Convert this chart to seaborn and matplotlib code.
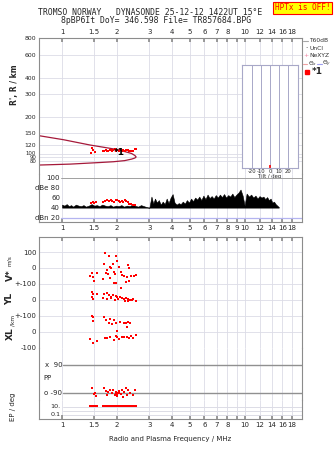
import numpy as np
import pandas as pd
import matplotlib
matplotlib.use("Agg")
import matplotlib.pyplot as plt
from matplotlib.ticker import NullLocator, NullFormatter
from matplotlib.lines import Line2D
from matplotlib.transforms import blended_transform_factory, ScaledTranslation
import seaborn as sns

# ---------------- data ----------------
freq_ticks = [1, 1.5, 2, 3, 4, 5, 6, 7, 8, 9, 10, 12, 14, 16, 18]
labels_top = ['1', '1.5', '2', '3', '4', '5', '6', '7', '8', '', '10', '12', '14', '16', '18']
labels_mid = ['1', '1.5', '2', '3', '4', '5', '6', '7', '8', '9', '10', '12', '14', '16', '18']
labels_bot = ['1', '1.5', '2', '3', '4', '5', '6', '7', '8', '', '10', '12', '14', '16', '18']

height_ticks = [80, 90, 100, 120, 150, 200, 300, 400, 600, 800]

echo_f = [1.44, 1.45, 1.48, 1.51, 1.67, 1.70, 1.73, 1.76, 1.79, 1.82, 1.85, 1.88, 1.91, 1.94,
          1.97, 2.00, 2.04, 2.08, 2.12, 2.16, 2.20, 2.24, 2.28, 2.33, 2.38, 2.45, 2.50, 2.55]
echo_h = [103, 114, 108, 105, 107, 106, 108, 107, 106, 108, 109, 107, 108, 110,
          106, 108, 107, 109, 107, 108, 106, 109, 108, 107, 106, 107, 110, 110]

prof_f = [0.75, 1.02, 1.42, 1.99, 2.30, 2.40, 2.50, 2.54, 2.50, 2.40, 2.20, 1.91, 1.61, 1.11, 0.75]
prof_h = [142, 132, 120, 110, 103.5, 101.5, 96, 91, 88, 85, 81, 78.3, 76.5, 73, 71]

mark_f, mark_h = [2.05], [103]

tilt_vals = [0]

amp_f = [1.00, 1.03, 1.06, 1.09, 1.12, 1.15, 1.19, 1.23, 1.27, 1.31, 1.35, 1.40,
         1.45, 1.50, 1.55, 1.60, 1.66, 1.72,
         1.78, 1.84, 1.90, 1.97, 2.04, 2.11, 2.18, 2.26, 2.34, 2.42,
         2.50, 2.60, 2.70, 2.80, 2.90, 3.00,
         3.08, 3.15, 3.22, 3.30, 3.38, 3.46,
         3.55, 3.64, 3.73, 3.82, 3.92,
         4.02, 4.12, 4.23, 4.34, 4.45,
         4.57, 4.69, 4.81, 4.94, 5.07,
         5.20, 5.34, 5.48, 5.62, 5.77,
         5.92, 6.08, 6.24, 6.40, 6.57,
         6.74, 6.92, 7.10, 7.29, 7.48,
         7.68, 7.88, 8.09, 8.30, 8.52,
         8.74, 8.97, 9.21, 9.45, 9.70,
         9.95, 10.2, 10.5, 10.8, 11.1,
         11.4, 11.7, 12.0, 12.3, 12.6,
         12.9, 13.2, 13.5, 13.8, 14.1,
         14.4, 14.7, 15.0, 15.3]
amp_db = [46, 44, 47, 43, 45, 42, 46, 44, 43, 45, 42, 44,
          47, 44, 45, 43, 46, 44,
          43, 45, 42, 44, 43, 45, 42, 44, 43, 46,
          44, 42, 45, 43, 41, 40,
          62, 48, 58, 50, 55, 46,
          52, 47, 58, 49, 60,
          67, 50, 46, 49, 47,
          52, 48, 55, 50, 58,
          53, 60, 56, 62, 55,
          64, 57, 66, 59, 63,
          58, 65, 60, 66, 61,
          67, 60, 65, 62, 68,
          61, 66, 70, 76, 64,
          44, 68, 62, 66, 60,
          64, 58, 63, 60, 62,
          57, 61, 55, 58, 50,
          52, 47, 44, 41]
amp_red_f = [1.44, 1.47, 1.50, 1.53, 1.68, 1.72, 1.76, 1.80, 1.84, 1.88, 1.92, 1.96,
             2.00, 2.04, 2.08, 2.12, 2.16, 2.20, 2.24, 2.28, 2.33, 2.38, 2.44, 2.50]
amp_red_db = [50, 52, 49, 51, 52, 54, 55, 53, 56, 54, 52, 55,
              56, 53, 51, 54, 52, 55, 53, 51, 48, 47, 45, 46]
amp_ticks = [20, 40, 60, 80, 100]
amp_labels = ['dBn 20', '40', '60', 'dBe 80', '100']

vs_f = [1.72, 1.81, 1.97, 2.00, 1.70, 1.91, 1.83, 1.85, 2.06, 1.77,
        1.73, 1.78, 1.93, 1.95, 2.09, 2.13, 2.28, 2.32, 2.18, 2.26,
        2.37, 2.47, 2.53, 1.45, 1.55, 1.43, 1.48, 1.50, 1.68, 1.83,
        1.92, 1.96, 2.24, 2.33]
vs_v = [96, 77, 77, 46, 25, 25, 8, -2, 8, -12,
        -33, -40, -23, -40, -27, -44, 19, -2, -50, -58,
        -50, -50, -46, -33, -29, -50, -54, -79, -69, -65,
        -92, -92, -85, -79]

yl_f = [1.45, 1.48, 1.56, 1.46, 1.48, 1.70, 1.75, 1.81, 1.85, 1.91,
        1.96, 2.00, 2.07, 2.03, 2.12, 2.18, 2.24, 2.30, 2.35, 2.40,
        2.45, 2.54, 1.68, 1.75, 1.86, 1.95, 2.09, 2.29, 2.21]
yl_v = [48, 37, 37, 17, 6, 37, 42, 31, 21, 31,
        25, 21, 17, 4, 10, 4, 10, 6, 0, 0,
        4, -4, 10, 6, 10, 0, 73, -6, -4]

xl_f = [1.45, 1.48, 1.47, 1.70, 1.74, 1.83, 1.81, 1.93, 1.97, 1.88,
        2.07, 2.18, 2.24, 2.30, 2.35, 2.26, 2.00, 1.43, 1.48, 1.55,
        1.72, 1.77, 1.83, 1.92, 1.97, 2.00, 2.06, 2.12, 2.18, 2.26,
        2.32, 2.38, 2.45, 2.53]
xl_v = [100, 92, 71, 96, 75, 79, 54, 75, 58, 50,
        65, 58, 54, 65, 54, 33, 8, -42, -67, -54,
        -35, -40, -33, -50, -25, -33, -42, -33, -29, -33,
        -38, -25, -40, -19]

pp_f = [1.45, 1.51, 1.53, 1.70, 1.74, 1.79, 1.75, 1.83, 1.87, 1.91,
        1.95, 1.97, 2.00, 2.06, 2.09, 2.12, 2.16, 2.18, 2.24, 2.27,
        2.30, 2.35, 2.43, 2.50, 1.50, 1.98, 2.02, 1.99, 2.04]
pp_v = [-58, -90, -111, -58, -79, -84, -101, -69, -90, -69,
        -101, -84, -111, -75, -96, -69, -118, -84, -58, -101,
        -73, -90, -101, -69, -96, -95, -92, -100, -88]

ep_f = [1.43, 1.46, 1.49, 1.52, 1.55, 1.68, 1.71, 1.74, 1.77, 1.80, 1.83, 1.86, 1.89,
        1.92, 1.95, 1.98, 2.01, 2.04, 2.07, 2.10, 2.13, 2.16, 2.19, 2.22, 2.25, 2.28,
        2.31, 2.34, 2.38, 2.42, 2.46, 2.52]
ep_v = [16, 15, 16, 15, 16, 15, 16, 14, 16, 15, 16, 15, 16,
        14, 16, 15, 16, 15, 16, 14, 16, 15, 16, 15, 16, 15,
        16, 15, 16, 14, 15, 16]

# ---------------- styling ----------------
sns.set_theme(style="white")
plt.rcParams['font.family'] = ['DejaVu Sans']

W, H = 335, 451
fig = plt.figure(figsize=(W / 100, H / 100), dpi=100)
X0, X1 = 39.3, 301.7
FMIN, FMAX = 0.751, 20.4
GRID = '#DCDCE6'
SPINE = '#8C8C8C'
RED = '#FF0000'
TS = 5


def box(y0, y1, x0=X0, x1=X1):
    return [x0 / W, 1 - y1 / H, (x1 - x0) / W, (y1 - y0) / H]


def ftext(x, y, s, **kw):
    kw.setdefault('va', 'center')
    fig.text(x / W, 1 - y / H, s, **kw)


def prep(ax, spines=('left', 'right')):
    ax.set_facecolor('none')
    ax.set_xscale('log')
    ax.set_xlim(FMIN, FMAX)
    ax.set_xticks(freq_ticks)
    ax.xaxis.set_minor_locator(NullLocator())
    ax.xaxis.set_major_formatter(NullFormatter())
    for s in ['left', 'right', 'top', 'bottom']:
        ax.spines[s].set_visible(s in spines)
        ax.spines[s].set_color(SPINE)
        ax.spines[s].set_linewidth(0.8)
    ax.tick_params(axis='x', which='both', length=0, labelsize=TS, pad=2)
    ax.tick_params(axis='y', which='both', length=0, labelsize=TS, pad=2.2)
    ax.grid(False)
    ax.xaxis.grid(True, color=GRID, lw=0.6)
    ax.set_axisbelow(True)


def red_scatter(ax, f, v):
    df = pd.DataFrame({'f': f, 'v': v})
    sns.scatterplot(data=df, x='f', y='v', ax=ax, marker='s', s=4.5, color=RED,
                    linewidth=0, clip_on=False, legend=False, zorder=5)
    ax.set_xlabel('')
    ax.set_ylabel('')


# ---------------- top (height) panel ----------------
H_LOG = np.log10([54.5, 80, 90, 100, 120, 150, 200, 300, 400, 600, 800])
H_POS = -np.array([174, 161, 157.3, 154.3, 145, 132.7, 116.7, 94.3, 78.3, 55, 38])


def h_fwd(h):
    h = np.maximum(np.asarray(h, dtype=float), 1e-6)
    return np.interp(np.log10(h), H_LOG, H_POS)


def h_inv(p):
    return 10 ** np.interp(np.asarray(p, dtype=float), H_POS, H_LOG)


ax_h = fig.add_axes(box(38, 174))
prep(ax_h, spines=('left', 'right', 'top'))
ax_h.set_yscale('function', functions=(h_fwd, h_inv))
ax_h.set_ylim(54.5, 800)
ax_h.set_yticks(height_ticks)
ax_h.set_yticklabels(['', '', '', '120', '150', '200', '300', '400', '600', '800'])
ax_h.tick_params(axis='y', labelsize=4.4)
ax_h.yaxis.set_minor_locator(NullLocator())
ax_h.yaxis.grid(True, color=GRID, lw=0.6)
# tightly packed low labels (80, 90, 100), nudged apart like the original
trh = blended_transform_factory(ax_h.transAxes, ax_h.transData)
for v, dy in zip([100, 90, 80], [1.0, 0.0, -0.9]):
    ax_h.text(-0.012, v, str(v), ha='right', va='center', fontsize=3.9,
              transform=trh + ScaledTranslation(0, dy / 72 * 0.72 * 1.0, fig.dpi_scale_trans))
ax_h.xaxis.set_ticks_position('top')
ax_h.set_xticklabels(labels_top)
ax_h.tick_params(axis='x', top=True, bottom=False, labeltop=True, labelbottom=False,
                 direction='in', length=3, color=SPINE, pad=2)

prof = pd.DataFrame({'f': prof_f, 'h': prof_h})
sns.lineplot(data=prof, x='f', y='h', ax=ax_h, sort=False, estimator=None,
             color='#A5193A', lw=0.9)
red_scatter(ax_h, echo_f, echo_h)
for f, h in zip(mark_f, mark_h):
    ax_h.text(f, h, '*1', ha='center', va='center', fontsize=6.5, fontweight='bold',
              color='black', zorder=6)
ax_h.set_xlabel('')
ax_h.set_ylabel('')

# tilt inset
ax_t = fig.add_axes(box(65, 167.7, 242.3, 297.7))
ax_t.set_facecolor('white')
ax_t.set_xlim(-30.5, 30.5)
ax_t.set_ylim(0, 1)
ax_t.set_yticks([])
ax_t.set_xticks([-20, -10, 0, 10, 20])
ax_t.set_xticklabels(['-20', '-10', '0', '10', '20'])
ax_t.tick_params(axis='x', length=0, labelsize=3.8, pad=0.6)
ax_t.grid(False)
ax_t.xaxis.grid(True, color='#A8A8C8', lw=0.7)
for s in ax_t.spines.values():
    s.set_color('#A8A8C8')
    s.set_linewidth(0.8)
ax_t.set_xlabel('Tilt / deg', fontsize=3.8, labelpad=0)
ax_t.vlines(tilt_vals, 0, 0.03, color=RED, lw=1.2)

# ---------------- amplitude panel ----------------
ax_a = fig.add_axes(box(174, 222))
prep(ax_a, spines=('left', 'right', 'bottom'))
ax_a.set_ylim(11.4, 107)
ax_a.set_yticks([])
ax_a.set_xticklabels(labels_mid)
ax_a.tick_params(axis='x', bottom=True, direction='in', length=3, color=SPINE, pad=2.5)
ax_a.axhline(100, xmin=0.083, color='#A0A0A0', lw=0.7)
ax_a.axhline(20, xmin=0.083, color='#B4B4F0', lw=0.9)
ax_a.fill_between(amp_f, 40, amp_db, color='black', lw=0.4, edgecolor='black', zorder=3)
red_scatter(ax_a, amp_red_f, amp_red_db)
tr = blended_transform_factory(ax_a.transAxes, ax_a.transData)
for v, lab in zip(amp_ticks, amp_labels):
    ax_a.text(0.079, v, lab, transform=tr, ha='right', va='center', fontsize=TS)

# ---------------- lower panels ----------------
ax_v = fig.add_axes(box(237, 284))
prep(ax_v, spines=('left', 'right', 'top'))
ax_v.set_ylim(-100, 193.75)
ax_v.set_yticks([100, 0])
ax_v.set_yticklabels(['100', '0'])
ax_v.yaxis.grid(True, color=GRID, lw=0.6)
ax_v.tick_params(axis='x', top=True, bottom=False, direction='in', length=3, color=SPINE)
red_scatter(ax_v, vs_f, vs_v)

ax_y = fig.add_axes(box(284, 316))
prep(ax_y)
ax_y.set_ylim(-100, 100)
ax_y.set_yticks([100, 0])
ax_y.set_yticklabels(['+-100', '0'])
ax_y.yaxis.grid(True, color=GRID, lw=0.6)
red_scatter(ax_y, yl_f, yl_v)

ax_x = fig.add_axes(box(316, 348))
prep(ax_x)
ax_x.set_ylim(-100, 100)
ax_x.set_yticks([100, 0, -100])
ax_x.set_yticklabels(['+-100', '0', '-100'])
ax_x.yaxis.grid(True, color=GRID, lw=0.6)
red_scatter(ax_x, xl_f, xl_v)

ax_p = fig.add_axes(box(348, 400))
prep(ax_p)
ax_p.set_ylim(-135, 199.3)
ax_p.set_yticks([])
ax_p.axhline(90, xmin=0.09, color='#909090', lw=1.0)
ax_p.axhline(-90, xmin=0.09, color='#909090', lw=1.0)
trp = blended_transform_factory(ax_p.transAxes, ax_p.transData)
ax_p.text(0.087, 90, 'x  90', transform=trp, ha='right', va='center', fontsize=TS)
ax_p.text(0.087, -90, 'o -90', transform=trp, ha='right', va='center', fontsize=TS)
red_scatter(ax_p, pp_f, pp_v)

ax_e = fig.add_axes(box(400, 419))
prep(ax_e, spines=('left', 'right', 'bottom'))
ax_e.set_yscale('log')
ax_e.set_ylim(0.01, 562)
ax_e.set_yticks([])
ax_e.yaxis.set_minor_locator(NullLocator())
for v in [10, 1, 0.1]:
    ax_e.axhline(v, xmin=0.09, color=GRID, lw=0.7)
tre = blended_transform_factory(ax_e.transAxes, ax_e.transData)
ax_e.text(0.08, 10, '10.', transform=tre, ha='right', va='center', fontsize=4.6)
ax_e.text(0.08, 0.1, '0.1', transform=tre, ha='right', va='center', fontsize=4.6)
ax_e.set_xticklabels(labels_bot)
ax_e.tick_params(axis='x', bottom=True, direction='in', length=3, color=SPINE, pad=2.5)
red_scatter(ax_e, ep_f, ep_v)

# ---------------- texts ----------------
ftext(150, 12.3, 'TROMSO NORWAY   DYNASONDE 25-12-12 1422UT 15\u00b0E', ha='center',
      fontsize=5.9, family='DejaVu Sans Mono')
ftext(156, 20.7, '8pBP6It DoY= 346.598 File= TR857684.BPG', ha='center',
      fontsize=5.9, family='DejaVu Sans Mono')
ftext(302.5, 8, 'HPTx is OFF!', ha='center', fontsize=5.6, family='DejaVu Sans Mono',
      color=RED, bbox=dict(boxstyle='square,pad=0.25', facecolor='#FFFF00',
                           edgecolor=RED, lw=0.8))

ftext(15, 85, "R', R / km", rotation=90, ha='center', fontsize=5.5, fontweight='bold')
ftext(10, 275, 'V*', rotation=90, ha='center', fontsize=6.5, fontweight='bold')
ftext(10, 261, 'm/s', rotation=90, ha='center', fontsize=4.2)
ftext(10, 299, 'YL', rotation=90, ha='center', fontsize=6.5, fontweight='bold')
ftext(13, 320, '/km', rotation=90, ha='center', fontsize=4.2)
ftext(10, 334, 'XL', rotation=90, ha='center', fontsize=6.5, fontweight='bold')
ftext(47, 378, 'PP', ha='center', fontsize=TS)
ftext(13, 407, 'EP / deg', rotation=90, ha='center', fontsize=5)
ftext(170.5, 439, 'Radio and Plasma Frequency / MHz', ha='center', fontsize=5)


# legend (right side)
def fline(x0, x1, y, color, lw=0.8):
    fig.add_artist(Line2D([x0 / W, x1 / W], [1 - y / H, 1 - y / H], color=color, lw=lw))


LS = 4.3
fline(303, 308, 41, '#A8A8A8')
ftext(309.5, 41, 'T60dB', fontsize=LS, color='#303030')
ftext(306, 48.3, '\u00b7', ha='center', fontsize=5, color='#303030')
ftext(309.5, 48.5, 'UnCl', fontsize=LS, color='#303030')
ftext(306, 55.6, '+', ha='center', fontsize=4.6, color='#F080A0')
ftext(309.5, 55.6, 'NeXYZ', fontsize=LS, color='#303030')
fline(302.5, 307, 63.5, '#F0A0A0')
ftext(307.5, 63.5, r'$\Theta_x$', fontsize=LS, color='#303030')
fline(317, 322, 63.5, '#A0A0F0')
ftext(322.5, 63.5, r'$\Theta_y$', fontsize=LS, color='#303030')
fig.add_artist(Line2D([307 / W], [1 - 72 / H], marker='s', markersize=2.2, color=RED, lw=0))
ftext(311.5, 72, '*1', fontsize=6.5, fontweight='bold')

fig.savefig('out.png', dpi=100)
